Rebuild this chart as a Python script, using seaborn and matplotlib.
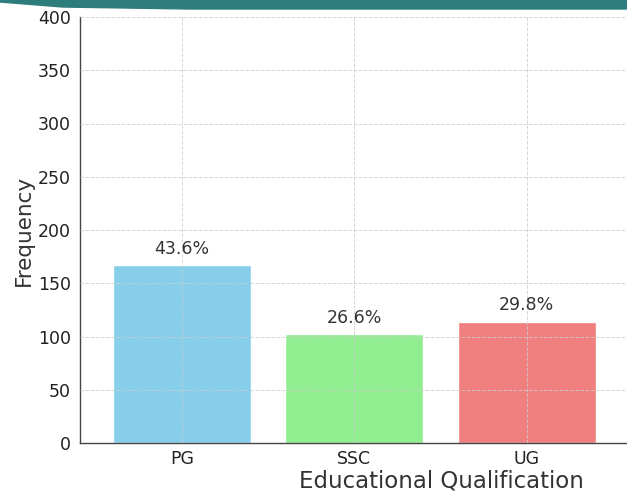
import matplotlib
matplotlib.use("Agg")
import matplotlib.pyplot as plt
import seaborn as sns
import pandas as pd
from matplotlib.patches import Polygon

# Data
categories = ['PG', 'SSC', 'UG']
counts = [167, 102, 114]
percent_labels = ['43.6%', '26.6%', '29.8%']
colors = ['skyblue', 'lightgreen', 'lightcoral']

df = pd.DataFrame({'Qualification': categories, 'Frequency': counts})

sns.set_style('white')
plt.rcParams['font.family'] = ['DejaVu Sans']

fig = plt.figure(figsize=(6.27, 4.95), dpi=100)
ax = fig.add_axes([80 / 627, 52 / 495, 560 / 627, 426 / 495])

sns.barplot(data=df, x='Qualification', y='Frequency', hue='Qualification',
            palette=colors, width=0.8, saturation=1, legend=False, ax=ax)

# Percent labels above bars
for i, p in enumerate(ax.patches):
    ax.text(p.get_x() + p.get_width() / 2, p.get_height() + 7, percent_labels[i],
            ha='center', va='bottom', fontsize=12.5, color='#333333')

ax.set_ylim(0, 400)
ax.set_xlim(-0.59, 2.656)
ax.set_yticks(range(0, 401, 50))
ax.grid(True, linestyle='--', color='#cccccc', linewidth=0.7, alpha=0.8)
ax.set_axisbelow(False)

for s in ['top', 'right']:
    ax.spines[s].set_visible(False)
for s in ['left', 'bottom']:
    ax.spines[s].set_color('#444444')
    ax.spines[s].set_linewidth(1.0)

ax.tick_params(axis='both', labelsize=12.5, colors='#222222', length=3, width=0.8)
ax.tick_params(axis='x', pad=2)
ax.set_xlabel('Educational Qualification', fontsize=16.5, color='#333333')
ax.set_ylabel('Frequency', fontsize=15.5, color='#333333')
ax.xaxis.set_label_coords(0.645, -0.062)
ax.yaxis.set_label_coords(-0.083, 0.5)

# teal band at the top of the slide
band = Polygon([[0, 1], [1, 1], [1, 1 - 9 / 495], [0.3, 1 - 9 / 495],
                [0.1, 1 - 7 / 495], [0, 1 - 2 / 495]],
               closed=True, transform=fig.transFigure, color='#2e7d7d', zorder=10)
fig.patches.append(band)

plt.savefig('out.png', dpi=100)
